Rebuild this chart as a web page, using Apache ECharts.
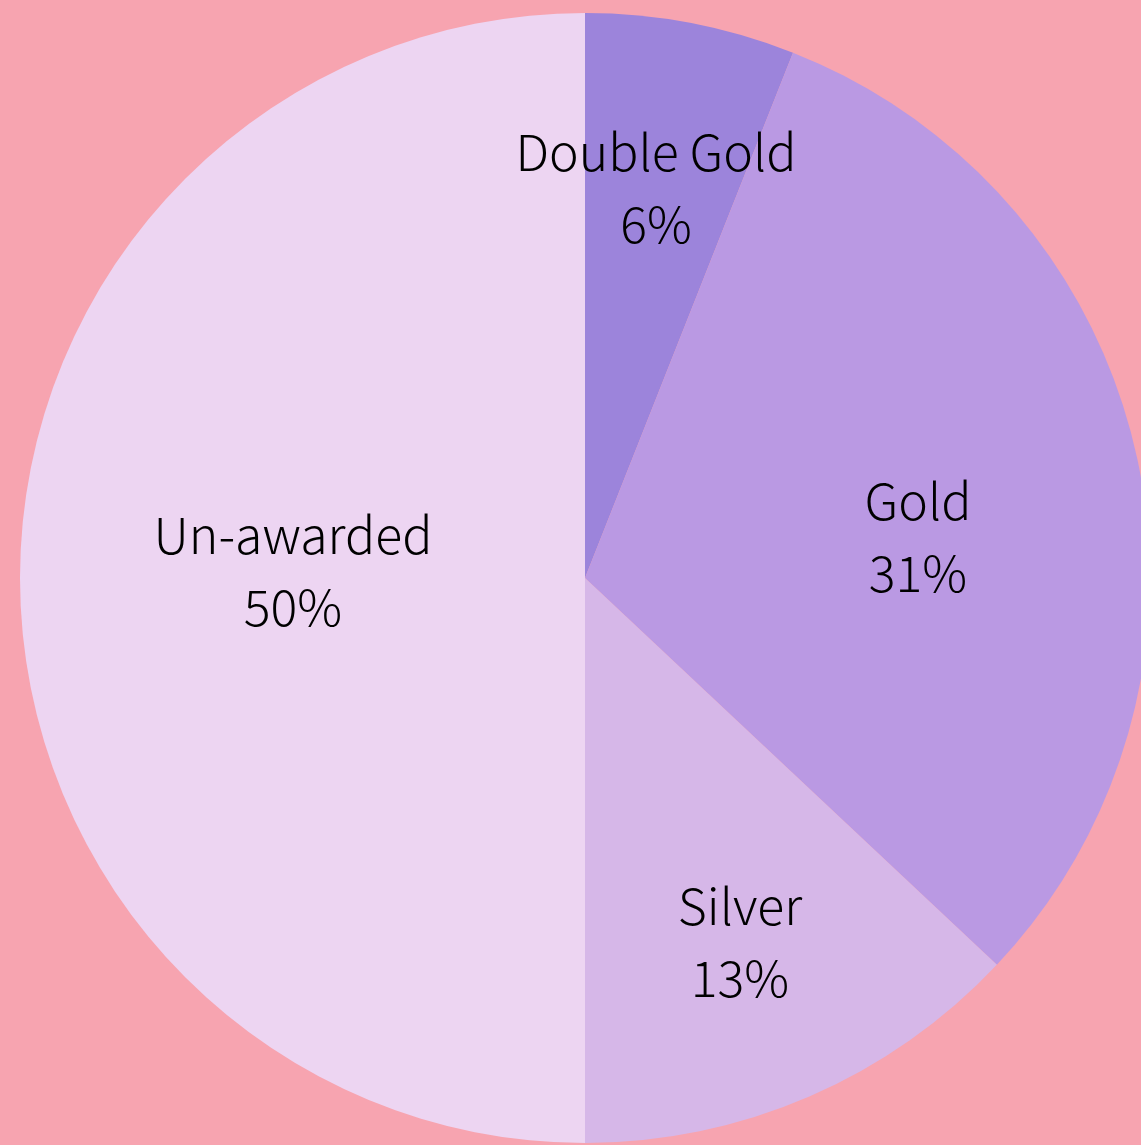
<!doctype html>
<html lang="en">
<head>
    <meta charset="UTF-8">
    <title>Awards</title>
    <style>
        html, body { margin: 0; padding: 0; background: #F7A4B0; }
        #main { width: 1141px; height: 1145px; }
    </style>
</head>
<body>
<div id="main"></div>
<script type="text/javascript" src="https://cdn.jsdelivr.net/npm/echarts@6/dist/echarts.min.js"></script>
<script type="text/javascript">
    // data
    var categories = ['Double Gold', 'Gold', 'Silver', 'Un-awarded'];
    var values = [6, 31, 13, 50];
    var colors = ['#9C84DB', '#BA99E3', '#D6B7E8', '#EDD5F2'];

    // label placement (offset from pie centre, px), like the "best fit" in the original
    var labelOffset = [[71, -390], [333, -41], [155, 364], [-292, -7]];
    var cx = 585, cy = 578;

    var myChart = echarts.init(document.getElementById('main'));
    var option = {
        backgroundColor: '#F7A4B0',
        animation: false,
        series: [{
            type: 'pie',
            center: [cx, cy],
            radius: 565,
            startAngle: 90,
            clockwise: true,
            percentPrecision: 0,
            itemStyle: {
                borderWidth: 0
            },
            label: {
                show: true,
                position: 'inside',
                formatter: '{b}\n{d}%',
                color: '#000',
                fontFamily: '"Noto Sans CJK JP", "Noto Sans", sans-serif',
                fontWeight: 300,
                fontSize: 50,
                lineHeight: 72,
                align: 'center',
                verticalAlign: 'middle'
            },
            labelLine: { show: false },
            labelLayout: function (params) {
                var o = labelOffset[params.dataIndex];
                return { x: cx + o[0], y: cy + o[1], align: 'center', verticalAlign: 'middle' };
            },
            data: categories.map(function (c, i) {
                return { name: c, value: values[i], itemStyle: { color: colors[i] } };
            })
        }]
    };
    myChart.setOption(option);
</script>
</body>
</html>
